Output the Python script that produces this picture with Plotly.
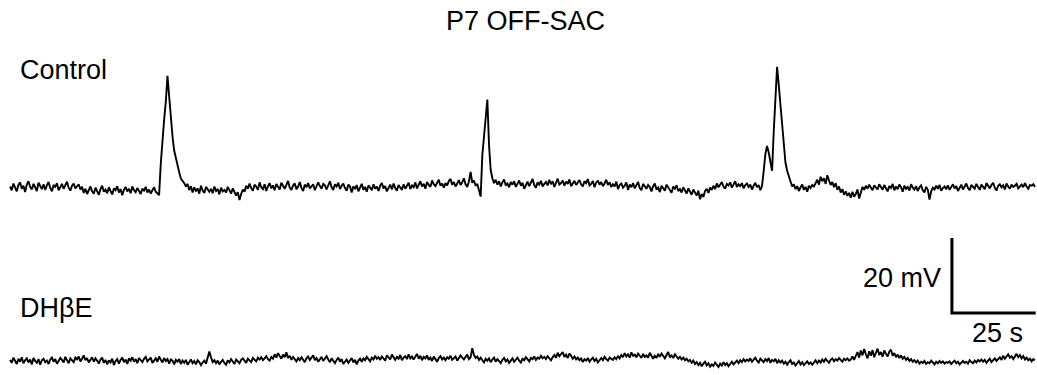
import numpy as np
import plotly.graph_objects as go

# ---------------- data (mV relative to resting baseline, sampled every 0.5 s) ----------------
SAMPLE_DT_S = 0.5
TITLE = "P7 OFF-SAC"
LABELS = ["Control", "DHβE"]
SCALE_MV = 20
SCALE_S = 25

control_mv = [
    0.4, -0.6, 1.2, 0.1, -0.9, 0.8, 1.5, -0.2, 0.6, -1.1, 0.9, 1.8, 0.3, -0.4, 1.1, 0.2, -0.8, 1.4, 0.5, -0.3,
    1.0, -0.5, 0.7, 1.6, 0.0, -0.9, 0.8, 0.3, 1.3, -0.6, 0.2, 1.1, -0.2, 0.9, 1.7, 0.1, -0.7, 0.6, 1.2, -0.1,
    0.5, 1.0, -0.4, 0.3, -1.3, -0.2, -1.6, -0.5, 0.4, -0.9, -1.5, 0.1, -0.7, -1.8, -0.3, 0.6, -1.0, -0.4, -1.4, 0.2,
    -0.8, -1.7, -0.1, -0.6, 0.5, -1.2, -0.3, -1.9, -0.5, 0.3, -0.9, -0.2, -1.4, 0.4, -0.6, -1.1, 0.0, -0.8, -1.6, -0.2,
    -0.7, 0.3, -1.2, -0.4, -1.5, -0.6, 0.2, -1.0, -1.6, -1.9, 6.5, 13.5, 18.2, 23.0, 29.9, 24.5, 18.5, 13.8, 10.0, 7.8,
    5.6, 4.2, 2.5, 2.0, 1.3, 0.4, 1.1, -0.6, 0.5, -1.2, 0.2, -0.9, -0.1, -1.5, 0.6, -0.7, -1.3, 0.3, -0.4, -1.0,
    -0.2, -1.4, 0.4, -0.8, -0.3, -1.7, 0.1, -0.9, -0.5, -1.2, 0.3, -0.6, -1.5, -0.1, -0.9, -2.0, -1.1, -3.2, -1.6, -0.4,
    -1.0, 0.6, -0.2, 1.2, 0.0, -0.7, 0.9, 0.4, -0.5, 1.5, 0.2, -0.3, 1.0, -0.8, 0.5, 1.3, -0.1, 0.7, -0.6, 1.1,
    0.3, -0.4, 1.4, 0.6, -0.2, 0.8, 1.9, 0.1, -0.5, 0.7, 1.2, -0.3, 0.4, 1.6, 0.0, -0.8, 0.9, 0.2, 1.3, -0.1,
    0.6, 1.0, -0.6, 0.3, 1.5, 0.5, -0.2, 1.1, 0.7, -0.4, 0.8, 1.8, 0.2, -0.5, 1.0, 0.4, 1.4, -0.3, 0.6, 1.2,
    0.0, -0.7, 0.9, 0.4, -1.2, 0.5, -0.3, 0.8, -0.9, 0.2, 1.1, -0.5, 0.3, -1.0, 0.7, 0.1, -0.6, 1.0, -0.2, 0.4,
    -0.8, 0.6, 1.3, -0.1, 0.5, -0.9, 0.2, 0.9, -0.4, 1.2, 0.0, -0.7, 0.8, 0.3, -0.5, 1.0, -0.2, 0.6, 1.4, -0.3,
    0.7, 0.2, 1.5, -0.1, 0.9, 1.8, 0.4, 1.1, -0.2, 1.6, 0.8, 0.3, 2.0, 1.0, 0.5, 1.4, 2.2, 0.6, 1.2, 0.1,
    1.3, 0.7, 1.9, 2.4, 0.9, 1.6, 0.4, 1.2, 2.1, 0.8, 1.5, 2.6, 1.0, 0.3, 1.7, 4.3, 1.4, 2.0, 0.6, 1.1,
    -0.5, -2.3, 8.8, 14.0, 19.0, 23.6, 11.5, 4.8, 2.6, 1.3, 2.2, 0.9, 1.8, 0.4, 1.5, 2.3, 0.7, 1.2, 0.2, 1.6,
    0.9, 1.8, 0.3, 1.2, 2.0, 0.6, 1.4, -0.2, 1.0, 1.7, 0.5, 1.3, 2.4, 0.8, 0.1, 1.5, 0.9, 1.9, 0.4, 1.1,
    1.6, 0.7, 2.2, 1.0, 1.8, 0.3, 1.4, 2.5, 0.9, 1.3, 2.0, 0.6, 1.7, 1.1, 2.3, 0.5, 1.2, 1.9, 0.8, 1.5,
    2.1, 1.0, 0.4, 1.8, 1.3, 2.4, 0.7, 1.1, 1.9, 0.2, 1.4, 2.0, 0.9, 1.6, 0.5, 1.2, 2.2, 0.8, 1.5, 0.3,
    1.0, 0.4, 1.7, -0.3, 0.8, 1.2, 0.1, 0.6, 1.5, -0.5, 0.9, 0.2, 1.3, -0.1, 0.7, 1.6, 0.0, -0.6, 1.1, 0.5,
    -0.2, 0.8, 0.3, -0.9, 0.5, 1.2, -0.4, 0.1, -1.1, 0.6, 0.0, -0.7, 0.9, 0.2, -0.5, -1.3, 0.4, -0.2, 0.7, -0.8,
    -0.3, -1.2, 0.2, -0.6, -1.5, -0.1, -0.9, -1.8, -0.4, -1.1, -2.0, -0.7, -3.0, -1.6, -2.4, -0.8, -0.2, -1.3, 0.1, -0.5,
    0.6, -0.3, 1.2, 0.2, 0.9, 1.6, 0.4, -0.2, 1.1, 0.7, 1.5, 0.1, 0.9, 1.8, 0.3, 1.0, 0.5, 1.3, -0.1, 0.8,
    1.2, 0.3, 0.9, -0.4, 0.6, 1.4, 0.2, 0.8, -0.6, 0.5, 4.5, 9.0, 11.2, 9.5, 7.0, 4.6, 15.0, 25.0, 32.3, 27.5,
    22.0, 16.5, 10.5, 6.8, 4.6, 3.0, 1.6, 0.4, 1.0, -0.3, 0.5, -0.8, 0.2, 0.9, -0.5, 0.3, -1.0, 0.6, 0.0, 0.8,
    0.4, 1.5, 2.2, 0.9, 3.0, 1.8, 2.6, 1.1, 3.4, 2.0, 0.8, 1.6, 0.2, 1.3, -0.5, 0.4, -1.2, -0.3, -1.8, -0.9,
    -2.1, -1.3, -2.6, -1.0, -2.3, -1.6, -0.4, -2.8, -0.9, 0.3, -0.5, 0.6, -0.2, 0.9, 0.1, -0.6, 0.7, 0.2, -0.4, 1.0,
    0.3, -0.5, 0.8, -0.1, -0.9, 0.5, 0.0, 1.1, -0.6, 0.4, -0.3, 0.9, 0.2, -1.0, 0.6, -0.2, 0.3, -0.7, 1.0, 0.1,
    -0.4, 0.5, -0.8, 0.2, 0.7, -0.6, -1.2, 0.3, -0.5, -3.1, -0.9, 0.1, -0.4, 0.6, -0.2, 0.8, -0.7, 0.0, 0.4, -0.3,
    0.7, -0.5, 0.2, 1.0, -0.1, 0.5, -0.8, 0.3, 0.9, -0.4, 0.6, 1.2, 0.0, -0.6, 0.8, 0.3, -0.2, 1.1, 0.4, -0.5,
    0.9, 0.2, -0.3, 1.3, 0.5, -0.1, 0.8, 1.4, 0.1, -0.7, 0.6, 1.0, 0.2, 0.7, -0.4, 1.2, 0.4, -0.2, 0.9, 0.3,
    0.6, 1.1, -0.1, 0.5, 0.9, 0.2, 1.3, 0.4, -0.2, 0.8, 0.6, 1.0, 0.3,
]

dhbe_mv = [
    0.3, -0.5, 0.9, 0.1, -0.8, 0.6, -0.2, 1.0, -0.6, 0.2, 0.7, -0.4, 0.4, -0.9, 0.8, 0.0, -0.5, 0.5, -1.0, 0.2,
    0.6, -0.3, 0.1, -0.8, 0.4, 0.9, -0.2, 0.5, -0.7, 0.0, 0.8, 0.3, -0.4, 1.1, 0.2, -0.6, 0.7, 0.1, -0.3, 0.9,
    0.4, 1.2, -0.1, 0.6, 1.5, 0.2, 0.8, -0.4, 0.5, 1.0, -0.2, 0.7, 0.1, -0.7, 0.4, 0.9, -0.5, 0.3, -0.9, 0.2,
    -0.4, 0.6, -1.1, 0.0, 0.5, -0.7, 0.3, 0.9, -0.3, 0.4, -0.8, 0.7, 0.1, 1.0, -0.2, 0.5, -0.6, 0.8, 0.2, -0.3,
    0.6, 1.1, -0.1, 0.4, 0.9, -0.5, 0.2, 0.7, -0.2, 1.2, 0.3, -0.4, 0.8, 0.0, 0.5, -0.7, 0.4, 0.1, -0.9, 0.3,
    -0.2, 0.5, -0.8, 0.1, -0.5, 0.3, -1.0, -0.2, 0.4, -0.6, 0.0, -0.9, 0.2, -0.3, -1.1, -0.4, 0.1, -0.7, 0.6, 2.5,
    1.0, -0.3, 0.2, -0.6, 0.1, -0.9, -0.2, 0.3, -0.5, -1.0, 0.2, -0.4, 0.5, -0.1, -0.8, 0.4, 0.0, -0.6, 0.3, 0.7,
    0.1, -0.5, 0.6, 0.2, -0.3, 0.8, 0.3, -0.1, 0.9, 0.4, 1.0, 0.2, 0.7, 1.3, 0.5, 0.1, 1.1, 0.6, 1.8, 0.9,
    2.1, 1.2, 0.6, 1.7, 1.0, 2.3, 0.8, 1.4, 0.3, 1.1, 0.6, -0.1, 0.8, 0.2, 1.0, 0.4, -0.3, 0.7, 1.2, 0.3,
    0.9, 1.5, 0.2, 0.8, -0.2, 0.5, 1.1, 0.0, 0.6, 1.3, 0.4, -0.3, 0.7, 0.1, -0.6, 0.3, 0.9, -0.2, 0.5, -0.8,
    0.0, 0.4, -0.5, 0.2, 0.8, -0.4, 0.3, -0.9, 0.1, 0.6, -0.2, 0.7, 0.2, 1.1, 0.5, -0.1, 0.9, 0.4, 1.4, 0.6,
    1.0, 0.3, 1.2, 0.7, 0.1, 1.5, 0.8, 0.4, 1.7, 0.9, 0.3, 1.1, 0.6, 1.6, 0.2, 0.9, 1.3, 0.5, 1.8, 0.7,
    1.2, 0.4, 1.0, 1.9, 0.6, 1.4, 0.2, 1.1, 0.7, 1.5, 0.3, 0.9, 0.0, 1.2, 0.5, -0.2, 0.8, 1.3, 0.4, 0.9,
    0.2, 1.0, 0.6, 1.4, 0.3, 0.8, 1.2, 0.1, 0.7, 1.5, 0.9, 0.4, 1.1, 1.7, 0.5, 1.0, 3.4, 1.6, 0.8, 1.2,
    0.3, 0.9, 0.2, -0.4, 0.6, 0.1, 0.7, -0.3, 0.4, 0.9, -0.2, 0.5, 0.0, -0.6, 0.3, 0.8, -0.1, 0.4, -0.5, 0.2,
    0.7, -0.2, 0.3, 0.9, 0.1, -0.4, 0.6, 0.2, 1.0, 0.4, -0.1, 0.8, 0.5, 1.2, 0.3, 0.9, 0.6, 1.4, 0.7, 1.1,
    0.5, 1.3, 0.8, 0.2, 1.0, 1.6, 0.9, 2.2, 1.3, 1.8, 2.4, 1.1, 1.7, 0.8, 2.0, 1.4, 0.6, 1.2, 0.4, 0.9,
    0.2, 0.7, -0.3, 0.5, 0.1, 0.8, -0.2, 0.4, 0.9, 0.0, 0.6, -0.4, 0.3, 0.8, 0.2, 1.1, 0.5, 0.1, 0.9, 0.6,
    0.3, 1.0, 0.5, 1.3, 0.7, 1.6, 1.0, 2.1, 1.2, 1.8, 0.9, 2.3, 1.4, 1.7, 1.0, 2.0, 1.3, 0.8, 1.9, 1.1,
    1.5, 0.9, 2.2, 1.2, 0.6, 1.4, 0.8, 1.9, 1.1, 2.0, 1.3, 0.7, 1.6, 2.4, 1.0, 1.5, 0.8, 1.8, 1.2, 0.6,
    1.1, 0.4, 0.9, 0.2, 0.6, -0.1, 0.3, -0.5, 0.1, -0.8, -0.3, -1.1, -0.5, -1.4, -0.7, -0.2, -1.2, -0.6, -1.5, -0.9,
    -1.3, -0.4, -1.0, -1.6, -0.7, -1.2, -0.3, -1.1, -0.6, -1.4, -0.8, -0.2, -0.9, -0.4, 0.1, -0.6, 0.2, -0.3, 0.5, -0.1,
    0.4, 0.0, 0.7, -0.2, 0.3, 0.9, 0.1, -0.4, 0.6, 0.2, -0.3, 0.5, 0.0, 0.8, -0.5, 0.3, -0.1, 0.6, -0.6, 0.2,
    -0.4, 0.1, -0.7, -0.2, -1.0, -0.3, 0.2, -0.8, -0.4, -1.2, -0.5, 0.0, -0.9, -0.3, -1.1, -0.6, -0.1, -0.8, -0.4, -1.0,
    -0.3, 0.2, -0.6, 0.1, -0.4, 0.4, -0.2, 0.6, 0.0, -0.5, 0.3, 0.7, -0.1, 0.5, 0.1, 0.8, 0.3, -0.2, 0.6, 0.2,
    0.7, 0.1, 0.4, 1.2, 0.3, 1.6, 2.4, 0.9, 2.8, 1.5, 3.2, 1.8, 0.7, 2.6, 1.4, 2.9, 1.0, 2.2, 3.3, 1.6,
    2.4, 1.1, 2.8, 1.9, 1.2, 2.5, 3.0, 1.4, 2.1, 1.0, 1.7, 0.8, 1.5, 0.6, 1.1, 0.3, 0.8, 0.0, 0.5, -0.2,
    0.2, -0.4, 0.1, -0.7, -0.2, -0.5, 0.0, -0.8, -0.3, -0.6, 0.1, -0.4, -0.9, -0.2, -0.6, 0.0, -0.5, -0.1, -0.7, -0.3,
    -0.5, -0.1, -0.8, -0.3, 0.1, -0.6, -0.2, -0.9, -0.4, 0.0, -0.5, -0.2, -0.7, 0.2, -0.3, -0.6, 0.1, -0.4, 0.3, -0.1,
    0.4, -0.2, 0.3, -0.5, 0.1, 0.6, -0.3, 0.2, 0.7, 0.0, 0.5, 1.0, 0.3, 1.4, 0.6, 1.1, 1.8, 0.9, 1.3, 0.5,
    1.2, 1.9, 1.0, 1.6, 0.7, 1.3, 0.4, 0.9, 0.2, 0.6, -0.1, 0.5, 0.2,
]

# ---------------- layout constants (pixels of the 1037x375 canvas) ----------------
W, H = 1037, 375
PX_PER_MV = 3.75
X_RANGE = [-3.0, 306.6]
CONTROL_BASE_PX = 188.0
DHBE_BASE_PX = 361.0
FONT = "Liberation Sans, Arial, sans-serif"
FSIZE = 27
TRACE_W = 1.9

t_control = np.arange(len(control_mv)) * SAMPLE_DT_S
t_dhbe = np.arange(len(dhbe_mv)) * SAMPLE_DT_S

span_mv = H / PX_PER_MV
y1_top = CONTROL_BASE_PX / PX_PER_MV
y2_top = DHBE_BASE_PX / PX_PER_MV

fig = go.Figure()
fig.add_trace(go.Scatter(x=t_control, y=control_mv, mode="lines",
                         line=dict(color="black", width=TRACE_W), yaxis="y", showlegend=False,
                         name=LABELS[0], hoverinfo="skip"))
fig.add_trace(go.Scatter(x=t_dhbe, y=dhbe_mv, mode="lines",
                         line=dict(color="black", width=TRACE_W), yaxis="y2", showlegend=False,
                         name=LABELS[1], hoverinfo="skip"))

# scale bar (drawn in data units on the DHbE axis)
bar_t0 = 281.2
bar_v0 = y2_top - 313.0 / PX_PER_MV
fig.add_trace(go.Scatter(x=[bar_t0, bar_t0, bar_t0 + SCALE_S],
                         y=[bar_v0 + SCALE_MV, bar_v0, bar_v0],
                         mode="lines", line=dict(color="black", width=3),
                         yaxis="y2", showlegend=False, hoverinfo="skip"))


def px(xp, yp):
    return xp / W, 1 - yp / H


annots = []
for text, xp, yp, xa in [
    (TITLE, 525, 21, "center"),
    (LABELS[0], 18, 70, "left"),
    (LABELS[1], 18, 308, "left"),
    (f"{SCALE_MV} mV", 943, 278, "right"),
    (f"{SCALE_S} s", 997, 333, "center"),
]:
    xx, yy = px(xp, yp)
    annots.append(dict(text=text, x=xx, y=yy, xref="paper", yref="paper",
                       xanchor=xa, yanchor="middle", showarrow=False,
                       font=dict(family=FONT, size=FSIZE, color="black")))

hidden = dict(visible=False, showgrid=False, zeroline=False, fixedrange=True)
fig.update_layout(
    width=W, height=H,
    margin=dict(l=0, r=0, t=0, b=0),
    paper_bgcolor="white", plot_bgcolor="white",
    xaxis=dict(range=X_RANGE, **hidden),
    yaxis=dict(range=[y1_top - span_mv, y1_top], **hidden),
    yaxis2=dict(range=[y2_top - span_mv, y2_top], overlaying="y", **hidden),
    annotations=annots,
    showlegend=False,
)

fig.write_html("out.html", config={"displayModeBar": False},
               post_script="document.body.style.margin='0';document.body.style.overflow='hidden';")
